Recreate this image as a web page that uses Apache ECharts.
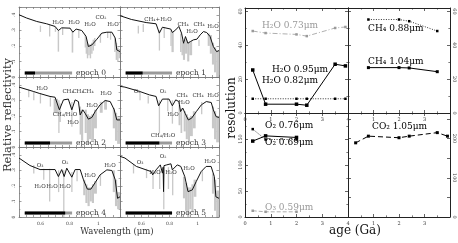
<!DOCTYPE html>
<html><head><meta charset="utf-8">
<script src="https://cdn.jsdelivr.net/npm/echarts@6/dist/echarts.min.js"></script>
<style>html,body{margin:0;padding:0;background:#fff}#c{width:458px;height:243px}</style>
</head><body><div id="c"></div>
<script>
// ================= DATA =================
// Left figure: smoothed spectra [wavelength um, relative reflectivity]
const spec0 = [[.45,.40],[.503,.379],[.573,.357],[.642,.342],[.70,.325],[.723,.299],[.746,.316],[.804,.314],[.823,.288],[.846,.308],[.885,.299],[.915,.261],[.931,.196],[.955,.206],[.99,.243],[1.024,.282],[1.059,.288],[1.094,.288],[1.117,.25],[1.128,.174],[1.15,.163]];
const spec1 = [[.45,.394],[.53,.37],[.635,.35],[.705,.342],[.728,.282],[.75,.32],[.809,.308],[.82,.286],[.844,.303],[.866,.325],[.885,.282],[.90,.217],[.913,.26],[.93,.217],[.948,.228],[.97,.239],[.994,.243],[1.017,.271],[1.04,.292],[1.063,.286],[1.087,.26],[1.11,.196],[1.133,.163],[1.15,.17]];
const spec2 = [[.45,.385],[.55,.357],[.59,.345],[.665,.325],[.70,.32],[.73,.239],[.758,.303],[.792,.308],[.816,.239],[.839,.303],[.862,.292],[.874,.206],[.892,.239],[.908,.217],[.931,.179],[.955,.19],[.978,.228],[1.012,.271],[1.047,.299],[1.082,.292],[1.11,.239],[1.128,.174],[1.15,.174]];
const spec3 = [[.45,.39],[.485,.385],[.589,.357],[.658,.335],[.705,.325],[.723,.265],[.75,.308],[.797,.308],[.82,.265],[.844,.303],[.866,.292],[.878,.228],[.894,.25],[.91,.217],[.933,.174],[.956,.185],[.99,.228],[1.025,.271],[1.06,.292],[1.095,.286],[1.11,.239],[1.13,.195],[1.15,.19]];
const spec4 = [[.45,.379],[.526,.331],[.596,.305],[.665,.305],[.70,.305],[.723,.26],[.746,.305],[.763,.26],[.781,.314],[.816,.256],[.839,.305],[.874,.305],[.897,.239],[.924,.179],[.948,.179],[.978,.221],[1.012,.271],[1.059,.303],[1.094,.299],[1.117,.239],[1.133,.12],[1.15,.13]];
const spec5 = [[.45,.39],[.485,.379],[.566,.325],[.635,.303],[.67,.292],[.681,.271],[.705,.303],[.735,.335],[.75,.282],[.755,.32],[.758,.163],[.761,.33],[.78,.335],[.81,.342],[.82,.303],[.855,.335],[.88,.325],[.908,.26],[.931,.163],[.961,.174],[.989,.228],[1.024,.292],[1.059,.325],[1.094,.325],[1.117,.26],[1.128,.13],[1.15,.12]];
// High-resolution absorption (gray): [lambda start, lambda end, R top, R bottom]
const gray0 = [[.594,.598,.33,.29],[.658,.662,.335,.26],[.698,.702,.325,.29],[.718,.728,.30,.163],[.748,.754,.316,.27],[.815,.826,.29,.157],[.86,.864,.30,.25],
 [.905,.912,.27,.19],[.912,.92,.25,.15],[.92,.93,.22,.12],[.93,.94,.21,.14],[.94,.95,.21,.12],[.95,.96,.22,.15],[.96,.97,.24,.17],[.97,.98,.25,.20],
 [1.01,1.015,.28,.22],[1.06,1.066,.29,.25],[1.08,1.086,.29,.24],[1.11,1.12,.25,.16],[1.12,1.13,.22,.11],[1.13,1.14,.19,.10],[1.14,1.15,.18,.12]];
const gray1 = [[.575,.579,.33,.28],[.61,.614,.34,.29],[.724,.732,.30,.17],[.758,.762,.32,.25],[.806,.814,.30,.20],[.814,.83,.29,.16],[.875,.885,.28,.16],
 [.885,.895,.24,.14],[.895,.91,.22,.11],[.91,.925,.24,.15],[.925,.94,.22,.10],[.94,.96,.23,.14],[1.004,1.008,.24,.20],
 [1.07,1.085,.28,.20],[1.085,1.10,.27,.15],[1.10,1.115,.22,.08],[1.115,1.13,.19,.03],[1.13,1.15,.17,.0]];
const gray2 = [[.513,.517,.37,.32],[.548,.552,.36,.30],[.594,.598,.345,.28],[.663,.667,.32,.26],[.69,.72,.31,.22],[.722,.728,.30,.09],[.728,.74,.28,.16],[.812,.82,.29,.13],
 [.87,.88,.26,.08],[.88,.895,.24,.04],[.905,.92,.24,.09],[.92,.935,.21,.02],[.935,.95,.20,.05],[.95,.97,.21,.04],[.97,.99,.24,.12],
 [1.01,1.03,.29,.22],[1.04,1.06,.30,.24],[1.1,1.115,.25,.12],[1.115,1.13,.22,.04],[1.13,1.15,.19,.02]];
const gray3 = [[.587,.591,.35,.30],[.645,.649,.33,.28],[.724,.732,.30,.09],[.783,.787,.31,.23],[.816,.824,.30,.15],[.864,.878,.27,.14],[.878,.89,.25,.09],
 [.90,.915,.23,.10],[.915,.93,.21,.05],[.93,.945,.19,.03],[.945,.965,.20,.07],[.965,.985,.23,.12],[1.023,1.027,.29,.21],
 [1.10,1.115,.26,.12],[1.115,1.13,.23,.05],[1.13,1.15,.20,.03]];
const gray4 = [[.548,.552,.335,.28],[.617,.621,.31,.24],[.658,.662,.31,.10],[.72,.728,.30,.16],[.756,.762,.30,.0],[.812,.82,.29,.16],[.848,.852,.30,.23],
 [.895,.91,.24,.14],[.91,.925,.21,.09],[.925,.94,.19,.07],[.94,.955,.19,.10],[.955,.97,.21,.09],[.97,.99,.23,.15],[1.01,1.014,.27,.20],
 [1.10,1.115,.30,.16],[1.115,1.13,.24,.07],[1.13,1.15,.16,.05]];
const gray5 = [[.541,.545,.34,.28],[.633,.637,.31,.25],[.679,.683,.29,.18],[.726,.73,.31,.18],[.755,.762,.30,.05],[.788,.792,.32,.18],[.818,.824,.30,.14],
 [.895,.91,.26,.12],[.91,.925,.22,.04],[.925,.94,.19,.0],[.94,.955,.19,.05],[.955,.97,.21,.03],[.97,.99,.24,.13],[1.028,1.032,.30,.23],
 [1.10,1.115,.28,.15],[1.115,1.13,.24,.04],[1.13,1.15,.17,.0]];
const epochNames = ['epoch 0','epoch 1','epoch 2','epoch 3','epoch 4','epoch 5'];
const timeBarStart = 0.49, timeBarEnd = 0.818;
const timeBarElapsed = [0.561, 0.61, 0.665, 0.728, 0.77, 0.818];
const reflTickLabels = {0:'0', 1:'.1', 2:'.2', 3:'.3', 4:'.4'};
const wlTickLabels = {60:'0.6', 80:'0.8', 100:'1'};

// Right figure: resolution vs age (Ga)
const ages = [0.3, 0.8, 2.0, 2.4, 3.5, 3.9];
const agesCH4 = [0.8, 2.0, 2.4, 3.5];
const agesO2 = [0.3, 0.8, 2.0];
const h2o073 = [48.4, 47.2, 46.4, 45.4, 50.2, 50.8];
const h2o095 = [25.4, 5.2, 5.2, 4.6, 28.8, 27.8];
const h2o082 = [8.4, 8.4, 8.4, 8.4, 8.4, 8.4];
const ch4088 = [55.2, 55.2, 54.2, 48.4];
const ch4104 = [26.8, 26.8, 26.6, 24.4];
const o2076 = [146, 156, 153];
const o2069 = [169, 149, 149];
const o3059 = [12, 10, 10];
const co2105 = [189, 206, 202, 206, 215, 206];

// ================= LAYOUT / STYLE =================
const FONT = "'DejaVu Serif','Liberation Serif',serif";
const LBOX = [[19,7,101,70],[120,7,99,70],[19,77,101,70],[120,77,99,70],[19,147,101,70],[120,147,99,70]];
const RBOX = {tl:[245,8,103,105], tr:[348,8,102,105], bl:[245,113,103,104], br:[348,113,102,104]};
const barY = 0.026;
const specLabelLayout = [
 ['H₂O',58,23],['H₂O',74,23],['H₂O',90,25],['CO₂',101,18],['H₂O',113,25],
 ['CH₄+H₂O',158,20],['CH₄',183,25],['H₂O',192,32],['CH₄',199,25],['H₂O',213,27],
 ['H₂O',42,89],['CH₄',68,92],['CH₄',78,92],['CH₄',88,92],['H₂O',106,94],['CH₄/H₂O',65,115],['H₂O',73,123],['H₂O',92,106],
 ['O₂',137,92],['O₂',163,92],['CH₄',182,96],['CH₄',198,96],['H₂O',213,96],['H₂O',184,103],['H₂O',173,115],['CH₄/H₂O',163,136],
 ['O₃',40,166],['O₂',65,163],['H₂O',110,166],['H₂O',90,176],['H₂O',40,187],['H₂O',52,187],['H₂O',65,187],
 ['O₃',140,163],['O₂',163,157],['H₂O',155,173],['H₂O',171,173],['H₂O',189,169],['H₂O',210,162]
];
const seriesLabelLayout = [
 ['H₂O 0.73μm',262,26,'#9a9a9a'],['H₂O 0.95μm',272,70,'#000'],['H₂O 0.82μm',262,81,'#000'],
 ['CH₄ 0.88μm',368,29,'#000'],['CH₄ 1.04μm',368,62,'#000'],
 ['O₂ 0.76μm',265,126,'#000'],['O₂ 0.69μm',265,143,'#000'],['O₃ 0.59μm',265,208,'#9a9a9a'],
 ['CO₂ 1.05μm',372,127,'#000']
];

// ================= BUILD =================
const grid=[], xAxis=[], yAxis=[], series=[];
function axis(gi, pos, c, showLabel, rot){
  return {type:'value', gridIndex:gi, position:pos, min:c.min, max:c.max, interval:c.interval,
    axisLine:{show:true, onZero:false, lineStyle:{color:c.color, width:c.lw}},
    axisTick:{show:true, inside:true, length:c.tick, lineStyle:{color:c.color, width:0.7}},
    minorTick:{show:!!c.minor, splitNumber:c.minor||2, length:c.tick*0.55, lineStyle:{color:c.color, width:0.6}},
    splitLine:{show:false}, minorSplitLine:{show:false},
    axisLabel:{show:showLabel, formatter:c.fmt, fontSize:c.fs, color:c.lc, fontFamily:FONT, margin:c.margin, rotate:rot||0, hideOverlap:false}
  };
}
function panel(box, xc, yc, xLab, yLabL, yLabR){
  const gi = grid.length;
  grid.push({left:box[0], top:box[1], width:box[2], height:box[3]});
  const xi = xAxis.length, yi = yAxis.length;
  xAxis.push(axis(gi,'bottom',xc,xLab));
  xAxis.push(axis(gi,'top',xc,false));
  yAxis.push(axis(gi,'left',yc,yLabL,90));
  yAxis.push(axis(gi,'right',yc,yLabR,-90));
  return {xi, yi};
}
// Left figure
const wlFmt = v => { const k = Math.round(v*100); return (Math.abs(v*100-k)<1e-6 && wlTickLabels[k]) ? wlTickLabels[k] : ''; };
const rFmt = v => { const k = Math.round(v*10); return (Math.abs(v*10-k)<1e-6 && reflTickLabels[k]!==undefined) ? reflTickLabels[k] : ''; };
const specs=[spec0,spec1,spec2,spec3,spec4,spec5], grays=[gray0,gray1,gray2,gray3,gray4,gray5];
const grayRender = (params, api) => {
  const a = api.coord([api.value(0), api.value(2)]), b = api.coord([api.value(1), api.value(3)]);
  return {type:'rect', shape:{x:a[0], y:a[1], width:Math.max(b[0]-a[0],1.3), height:b[1]-a[1]}, style:{fill:'#c8c8c8'}};
};
for (let i=0;i<6;i++){
  const xc = {min:0.45, max:1.15, interval:0.05, color:'#777', lw:0.8, tick:2, fmt:wlFmt, fs:4.5, lc:'#444', margin:4};
  const yc = {min:0, max:0.45, interval:0.1, minor:2, color:'#777', lw:0.8, tick:2.5, fmt:rFmt, fs:4.5, lc:'#444', margin:3};
  const p = panel(LBOX[i], xc, yc, i>=4, i%2===0, false);
  series.push({type:'custom', xAxisIndex:p.xi, yAxisIndex:p.yi, data:grays[i], encode:{x:[0,1], y:[2,3]}, renderItem:grayRender, silent:true, z:1});
  series.push({type:'line', xAxisIndex:p.xi, yAxisIndex:p.yi, data:specs[i], showSymbol:false, lineStyle:{color:'#111', width:1}, silent:true, z:3});
  series.push({type:'line', xAxisIndex:p.xi, yAxisIndex:p.yi, data:[[timeBarStart,barY],[timeBarEnd,barY]], showSymbol:false, lineStyle:{color:'#9a9a9a', width:3}, silent:true, z:4});
  series.push({type:'line', xAxisIndex:p.xi, yAxisIndex:p.yi, data:[[timeBarStart,barY],[timeBarElapsed[i],barY]], showSymbol:false, lineStyle:{color:'#000', width:3}, silent:true, z:5});
}
// Right figure
const pairs = (xs, ys) => xs.map((x,i)=>[x, ys[i]]);
const ageFmtL = v => Number.isInteger(v) ? String(v) : '';
const ageFmtR = v => (Number.isInteger(v) && v>0 && v<4) ? String(v) : '';
const mkX = fmt => ({min:0, max:4, interval:1, minor:2, color:'#222', lw:1, tick:3, fmt, fs:5, lc:'#333', margin:4});
const topY = {min:0, max:62, interval:20, minor:2, color:'#222', lw:1, tick:3, fmt:v=>(v%20===0?String(v):''), fs:5, lc:'#333', margin:2};
const blY = {min:0, max:200, interval:50, minor:2, color:'#222', lw:1, tick:3, fmt:v=>(v<200&&v%50===0?String(v):''), fs:5, lc:'#333', margin:2};
const brY = {min:0, max:265, interval:50, color:'#222', lw:1, tick:3, fmt:v=>(v%100===0?String(v):''), fs:5, lc:'#333', margin:2};
const TL = panel(RBOX.tl, mkX(ageFmtL), topY, true, true, false);
const TR = panel(RBOX.tr, mkX(ageFmtR), topY, true, false, true);
const BL = panel(RBOX.bl, mkX(ageFmtL), blY, true, true, false);
const BR = panel(RBOX.br, mkX(ageFmtR), brY, true, false, true);
function rs(p, data, color, type, sym, lw){
  series.push({type:'line', xAxisIndex:p.xi, yAxisIndex:p.yi, data, symbol:'rect', symbolSize:sym,
    itemStyle:{color}, lineStyle:{color, width:lw||0.8, type}, silent:true, z:5});
}
rs(TL, pairs(ages,h2o073), '#9a9a9a', [5,2,1,2], 2.5);
rs(TL, pairs(ages,h2o095), '#000', 'solid', 3.5, 1);
rs(TL, pairs(ages,h2o082), '#000', [1,1.5], 2.5);
rs(TR, pairs(agesCH4,ch4088), '#000', [1,1.5], 2.5);
rs(TR, pairs(agesCH4,ch4104), '#000', 'solid', 3, 1);
rs(BL, pairs(agesO2,o2076), '#000', 'solid', 3.5, 1);
rs(BL, pairs(agesO2,o2069), '#000', [1,1.5], 2.5);
rs(BL, pairs(agesO2,o3059), '#9a9a9a', [4,2], 2.5);
rs(BR, pairs(ages,co2105), '#000', [5,3], 3, 1);

// Text
const graphic = [];
function txt(t, x, y, fs, fill, opts){
  opts = opts || {};
  graphic.push({type:'text', x, y, rotation:opts.rot||0, silent:true, z:10,
    style:{text:t, fontSize:fs, fontFamily:FONT, fill, align:opts.align||'center', verticalAlign:'middle', textAlign:opts.align||'center', textVerticalAlign:'middle'}});
}
txt('Relative reflectivity', 8, 115, 11.5, '#333', {rot:Math.PI/2});
txt('Wavelength (μm)', 117, 232, 8.5, '#333');
txt('resolution', 232, 108, 12, '#111', {rot:Math.PI/2});
txt('age (Ga)', 355, 231, 12, '#111');
specLabelLayout.forEach(l => txt(l[0], l[1], l[2], 5.5, '#333'));
const epochPos = [[76,73],[176,73],[76,143],[176,143],[76,213],[176,213]];
epochNames.forEach((n,i) => txt(n, epochPos[i][0], epochPos[i][1], 7.5, '#333', {align:'left'}));
seriesLabelLayout.forEach(l => txt(l[0], l[1], l[2], 9, l[3], {align:'left'}));

const chart = echarts.init(document.getElementById('c'), null, {renderer:'canvas'});
chart.setOption({animation:false, backgroundColor:'#fff', grid, xAxis, yAxis, series, graphic});
</script></body></html>
